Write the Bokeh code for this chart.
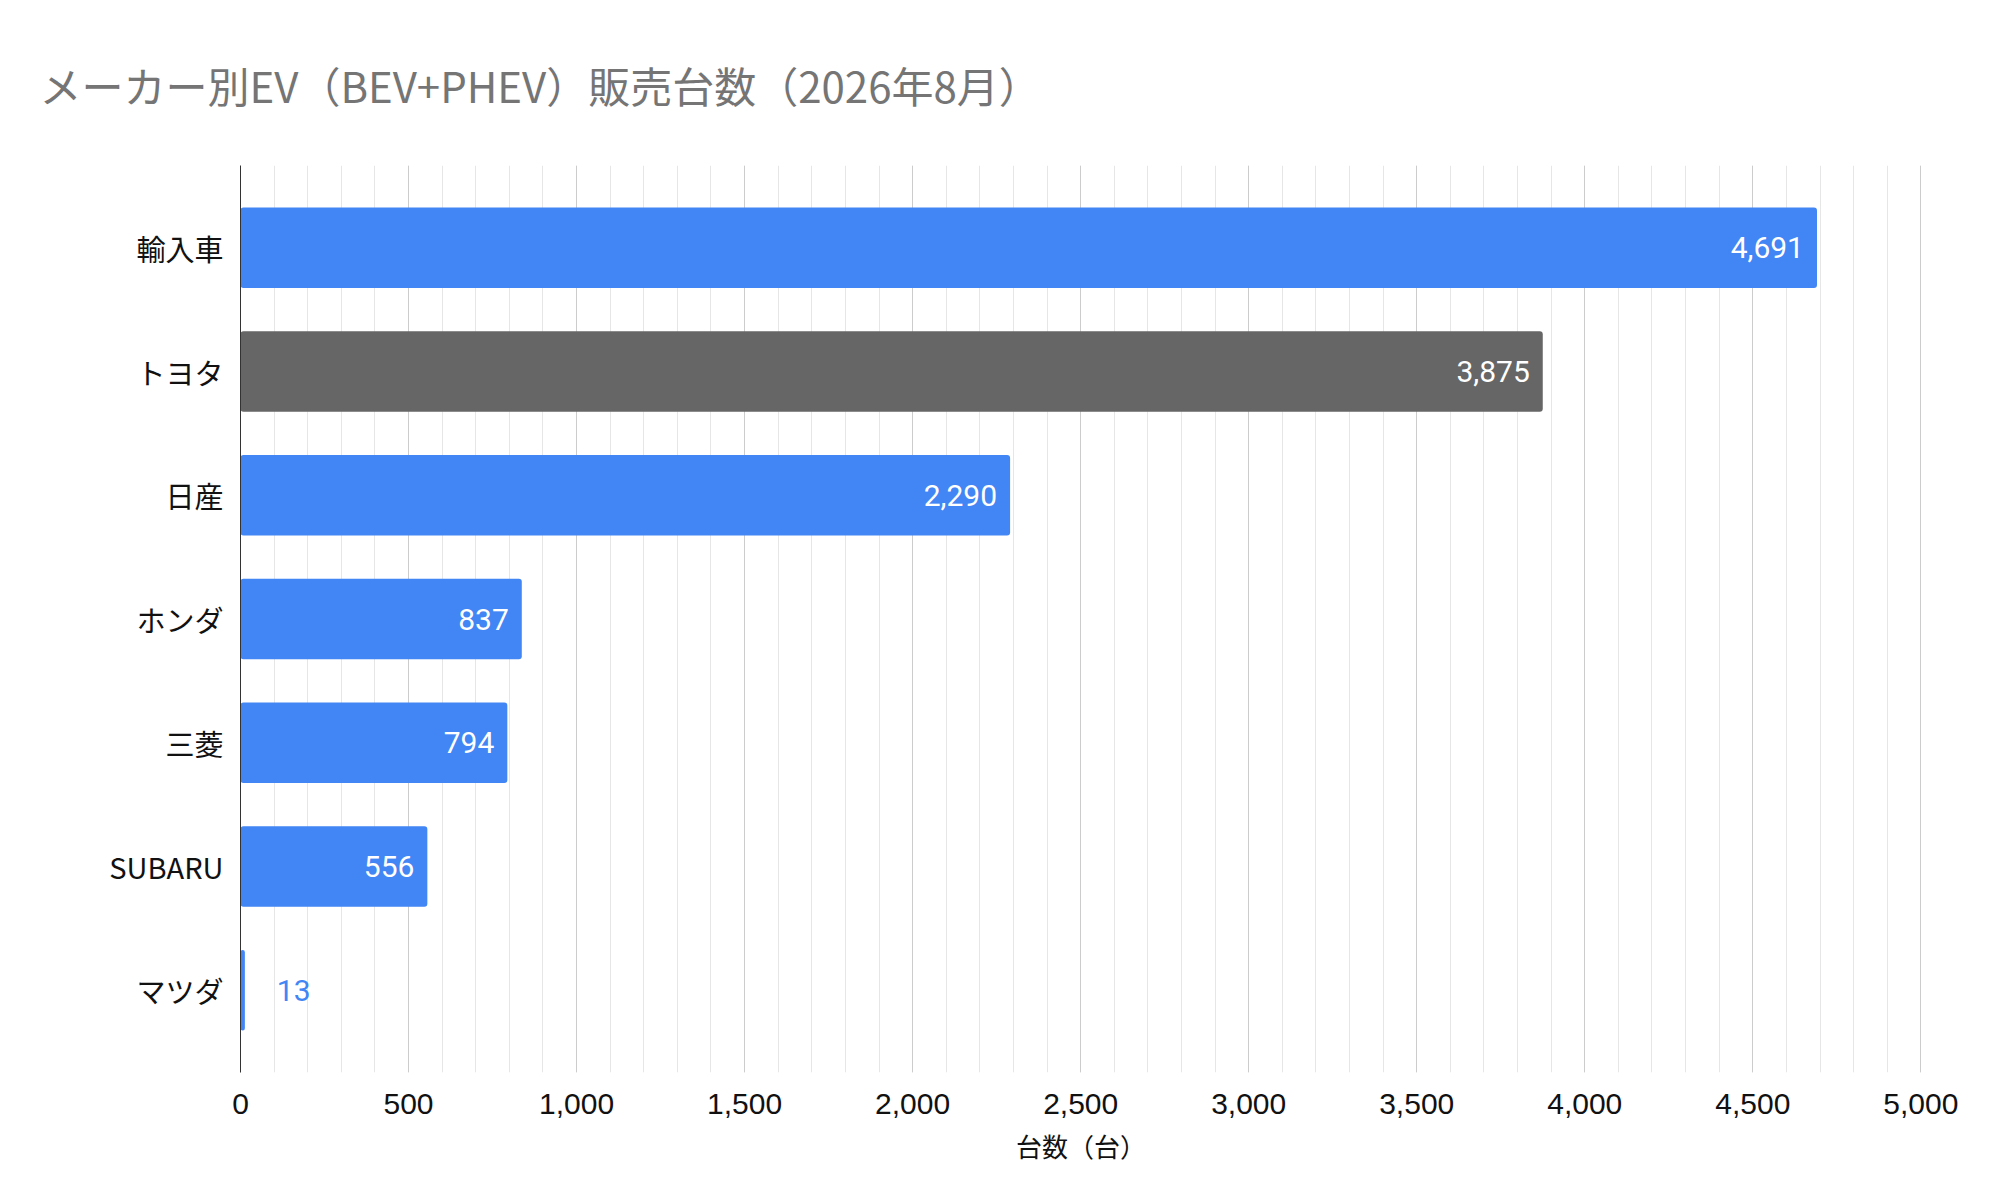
from bokeh.plotting import figure
from bokeh.models import ColumnDataSource, FactorRange, Range1d, SingleIntervalTicker, NumeralTickFormatter
from bokeh.core.properties import value
from bokeh.embed import file_html
from bokeh.resources import INLINE

# data (Aug 2026, EV = BEV + PHEV)
makers = ["輸入車", "トヨタ", "日産", "ホンダ", "三菱", "SUBARU", "マツダ"]
units = [4691, 3875, 2290, 837, 794, 556, 13]
highlight = "トヨタ"

BLUE = "#4285f4"
GREY = "#666666"
JP = "Noto Sans CJK JP"

colors = [GREY if m == highlight else BLUE for m in makers]
inside = [u >= 300 for u in units]
src = ColumnDataSource(data=dict(
    maker=makers,
    units=units,
    color=colors,
    label=[f"{u:,}" for u in units],
    align=["right" if i else "left" for i in inside],
    xoff=[-13 if i else 32 for i in inside],
    tcolor=["#ffffff" if i else BLUE for i in inside],
))

p = figure(width=1982, height=1172,
           y_range=FactorRange(factors=makers[::-1], range_padding=0.165, range_padding_units="absolute"),
           x_range=Range1d(0, 5002),
           output_backend="svg", toolbar_location=None,
           min_border_left=240, min_border_right=61, min_border_top=164, min_border_bottom=100,
           title="メーカー別EV（BEV+PHEV）販売台数（2026年8月）")
p.outline_line_color = None

p.title.text_font = JP
p.title.text_font_size = "42px"
p.title.text_font_style = "normal"
p.title.text_color = "#757575"
p.title.align = "left"
p.title.offset = -201
p.title.standoff = 102

p.hbar(y="maker", left=0, right="units", height=0.65, source=src,
       fill_color="color", line_color=None, border_radius=3)
p.text(x="units", y="maker", text="label", source=src, x_offset="xoff",
       text_align="align", text_baseline="middle", text_color="tcolor",
       text_font=value("Roboto"), text_font_size="30px")

# x axis: ticks every 500, minor grid every 100
p.xaxis.ticker = SingleIntervalTicker(interval=500, num_minor_ticks=5)
p.xaxis.formatter = NumeralTickFormatter(format="0,0")
p.xaxis.axis_line_color = None
p.xaxis.major_tick_line_color = None
p.xaxis.minor_tick_line_color = None
p.xaxis.major_label_standoff = 15
p.xaxis.major_label_text_font = "Liberation Sans"
p.xaxis.major_label_text_font_size = "30px"
p.xaxis.major_label_text_color = "#111111"
p.xaxis.axis_label = "台数（台）"
p.xaxis.axis_label_text_font = JP
p.xaxis.axis_label_text_font_size = "26px"
p.xaxis.axis_label_text_font_style = "normal"
p.xaxis.axis_label_text_color = "#111111"
p.xaxis.axis_label_standoff = 10

p.xgrid.grid_line_color = "#cccccc"
p.xgrid.minor_grid_line_color = "#e6e6e6"
p.ygrid.grid_line_color = None

p.yaxis.axis_line_color = "#333333"
p.yaxis.major_tick_line_color = None
p.yaxis.minor_tick_line_color = None
p.yaxis.major_label_standoff = 11
p.yaxis.major_label_text_font = JP
p.yaxis.major_label_text_font_size = "29px"
p.yaxis.major_label_text_color = "#111111"

open("out.html", "w").write(file_html(p, INLINE))
